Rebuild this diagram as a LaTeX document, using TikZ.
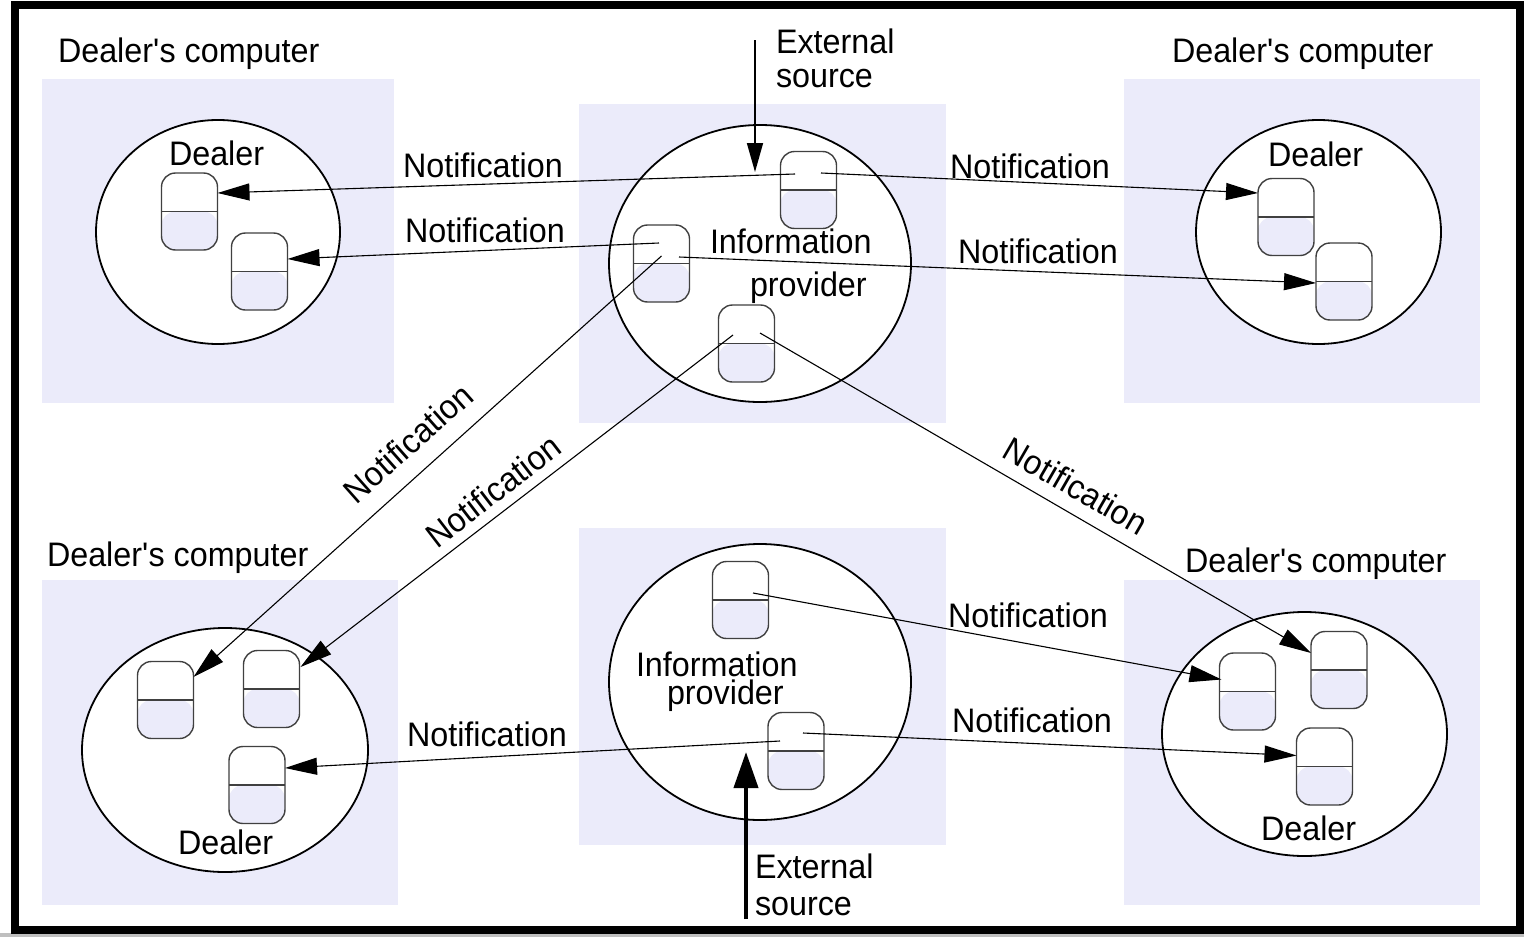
\documentclass[tikz,border=0pt]{standalone}
\usepackage{fontspec}
\setmainfont{Liberation Sans}[FakeStretch=0.95]
\usetikzlibrary{shapes.geometric,arrows.meta}
\definecolor{lav}{RGB}{235,235,250}
\newcommand{\dealerpc}{Dealer\textquotesingle s computer}
\begin{document}
\begin{tikzpicture}[x=1pt,y=-1pt,
  every node/.style={font=\fontsize{34}{36}\selectfont, inner sep=0pt, outer sep=0pt},
  panel/.style={fill=lav, draw=none, rectangle},
  host/.style={ellipse, draw=black, line width=1.8pt, fill=white},
  obj/.style={draw=black!75, line width=1.4pt, fill=white, rounded corners=14pt,
    minimum width=56pt, minimum height=77pt,
    path picture={
      \fill[lav] (path picture bounding box.west) rectangle (path picture bounding box.south east);
      \draw[black!75, line width=1.4pt] (path picture bounding box.west) -- (path picture bounding box.east);
    }},
  msg/.style={draw=black, line width=1.1pt, -{Triangle[length=32pt,width=17pt]}},
  feed/.style={draw=black, line width=4pt, -{Triangle[length=36pt,width=24pt]}},
  lbl/.style={anchor=base west}
]
\useasboundingbox (0,0) rectangle (1524,937);
\fill[white] (0,0) rectangle (1524,937);
\fill[black!25] (0,933) rectangle (1524,937);

% computers
\node[panel, minimum width=352pt, minimum height=324pt] (ptl) at (218,241) {};
\node[panel, minimum width=367pt, minimum height=319pt] (ptm) at (762.5,263.5) {};
\node[panel, minimum width=356pt, minimum height=324pt] (ptr) at (1302,241) {};
\node[panel, minimum width=356pt, minimum height=325pt] (pbl) at (220,742.5) {};
\node[panel, minimum width=367pt, minimum height=317pt] (pbm) at (762.5,686.5) {};
\node[panel, minimum width=356pt, minimum height=325pt] (pbr) at (1302,742.5) {};

% processes
\node[host, minimum width=244pt, minimum height=224pt] (etl) at (218,232) {};
\node[host, minimum width=302pt, minimum height=277pt] (etm) at (760,263.5) {};
\node[host, minimum width=245pt, minimum height=224pt] (etr) at (1318.5,232) {};
\node[host, minimum width=286pt, minimum height=244pt] (ebl) at (225,750) {};
\node[host, minimum width=302pt, minimum height=276pt] (ebm) at (760,682) {};
\node[host, minimum width=285pt, minimum height=244pt] (ebr) at (1304.5,734) {};

% objects
\node[obj] (tl1) at (189.5,211.5) {};
\node[obj] (tl2) at (259.5,271.5) {};
\node[obj] (ta) at (808.5,190) {};
\node[obj] (tb) at (661.5,263.5) {};
\node[obj] (tc) at (746.5,343.5) {};
\node[obj] (tr1) at (1286,217) {};
\node[obj] (tr2) at (1344,281.5) {};
\node[obj] (bl1) at (165.5,700) {};
\node[obj] (bl2) at (271.5,689) {};
\node[obj] (bl3) at (257,785) {};
\node[obj] (bm1) at (740.5,600) {};
\node[obj] (bm2) at (796,751) {};
\node[obj] (br1) at (1247.5,691.5) {};
\node[obj] (br2) at (1339,670) {};
\node[obj] (br3) at (1324.5,766.5) {};

% captions
\node[lbl] (ctl) at (58,62) {\dealerpc};
\node[lbl] (ctr) at (1172,62) {\dealerpc};
\node[lbl] (cbl) at (47,566) {\dealerpc};
\node[lbl] (cbr) at (1185,572) {\dealerpc};
\node[lbl] (dtl) at (169,165) {Dealer};
\node[lbl] (dtr) at (1268,166) {Dealer};
\node[lbl] (dbl) at (178,854) {Dealer};
\node[lbl] (dbr) at (1261,840) {Dealer};
\node[lbl] (itm) at (710,253) {Information};
\node[lbl] (ptmtext) at (750,296) {provider};
\node[lbl] (ibm) at (636,676) {Information};
\node[lbl] (pbmtext) at (667,704) {provider};
\node[lbl] (xt1) at (776,53) {External};
\node[lbl] (xt2) at (776,87) {source};
\node[lbl] (xb1) at (755,878) {External};
\node[lbl] (xb2) at (755,915) {source};

% notifications
\draw[msg] ([shift={(-13.5,-16)}]ta.center) -- ([shift={(0,-18.5)}]tl1.east);
\draw[msg] ([shift={(12.5,-17)}]ta.center) -- ([shift={(0,-24)}]tr1.west);
\draw[msg] ([shift={(-2.5,-20.5)}]tb.center) -- ([shift={(0,-12.5)}]tl2.east);
\draw[msg] ([shift={(17.5,-6.5)}]tb.center) -- ([shift={(0,1.5)}]tr2.west);
\draw[msg] ([shift={(0,-7.5)}]tb.center) -- ([shift={(0,-23)}]bl1.east);
\draw[msg] ([shift={(-13.5,-8.5)}]tc.center) -- ([shift={(1,-22)}]bl2.east);
\draw[msg] ([shift={(13.5,-10.5)}]tc.center) -- ([shift={(0,-17)}]br2.west);
\draw[msg] ([shift={(12.5,-7)}]bm1.center) -- ([shift={(2,-12)}]br1.west);
\draw[msg] ([shift={(-16,-10)}]bm2.center) -- ([shift={(0,-17)}]bl3.east);
\draw[msg] ([shift={(7,-18)}]bm2.center) -- ([shift={(0,-11)}]br3.west);

\node[lbl] (n1) at (403,177) {Notification};
\node[lbl] (n2) at (405,242) {Notification};
\node[lbl] (n3) at (950,178) {Notification};
\node[lbl] (n4) at (958,263) {Notification};
\node[lbl] (n5) at (948,627) {Notification};
\node[lbl] (n6) at (407,746) {Notification};
\node[lbl] (n7) at (952,732) {Notification};
\node[rotate=41.5] (n8) at (408,443) {Notification};
\node[rotate=37.5] (n9) at (493,491) {Notification};
\node[rotate=-30] (n10) at (1076,486) {Notification};

% external sources
\coordinate (srcT) at (755,40);
\coordinate (srcTend) at (755,172);
\draw[msg, line width=1.6pt, -{Triangle[length=29pt,width=16pt]}] (srcT) -- (srcTend);
\coordinate (srcB) at (746,919);
\coordinate (srcBend) at (746,752);
\draw[feed] (srcB) -- (srcBend);

% frame
\draw[line width=8pt] (15,5) rectangle (1520,930);
\end{tikzpicture}
\end{document}
